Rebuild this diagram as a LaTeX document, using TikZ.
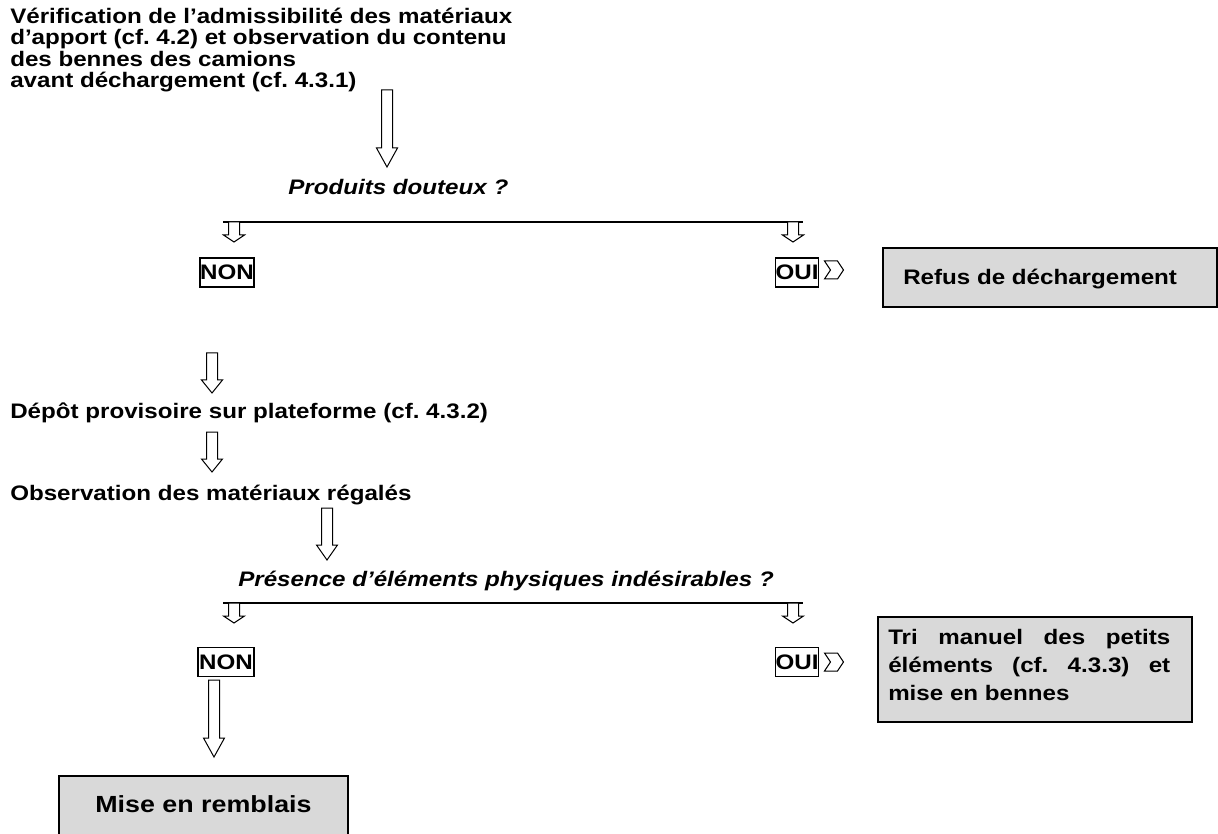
\documentclass[tikz,border=0pt]{standalone}
\usepackage{fontspec}
\setmainfont{Liberation Sans}
\newfontfamily\sfb[FakeStretch=1.15]{Liberation Sans}
\usetikzlibrary{calc}
\frenchspacing
\newcommand\harrow[3]{%
  \draw[hollow] ($(#1)+(-5.5,0)$) -- ($(#1)+(5.5,0)$) -- ($(#2)+(5.5,-#3)$) -- ($(#2)+(10.5,-#3)$) -- (#2)
    -- ($(#2)+(-10.5,-#3)$) -- ($(#2)+(-5.5,-#3)$) -- cycle;}
\newcommand\chevron[1]{%
  \draw[hollow,shift={(#1)}] (-9.5,-9) -- (3.5,-9) -- (9.5,0) -- (3.5,9) -- (-9.5,9) -- (-3.5,0) -- cycle;}
\begin{document}
\begin{tikzpicture}[x=0.75pt,y=-0.75pt,
  txt/.style={inner sep=0pt, font=\sfb\bfseries\fontsize{15.75}{16.1}\selectfont, align=left},
  qtxt/.style={inner sep=0pt, font=\sfb\bfseries\itshape\fontsize{15.75}{16.1}\selectfont},
  lab/.style={draw, line width=0.9pt, inner sep=0pt, minimum height=21.75pt, font=\sfb\bfseries\fontsize{15.75}{16.1}\selectfont},
  result/.style={draw, line width=0.9pt, fill=black!15},
  hollow/.style={draw, line width=0.75pt, fill=white, line join=miter},
  branch/.style={line width=1.1pt}]
\useasboundingbox (0,0) rectangle (1218,834);

% texts
\node[txt, anchor=north west] (verif) at (10,7.5) {Vérification de l’admissibilité des matériaux\\d’apport (cf. 4.2) et observation du contenu\\des bennes des camions\\avant déchargement (cf. 4.3.1)};
\node[qtxt, anchor=base west] (q1) at (288,195) {Produits douteux ?};
\node[lab, minimum width=40.5pt] (non1) at (227,272.5) {NON};
\node[lab, minimum width=31.5pt] (oui1) at (797,272.5) {OUI};
\draw[result] (883,248) rectangle (1217,307);
\node[txt, anchor=base west] (refus) at (903,285) {Refus de déchargement};
\node[txt, anchor=base west] (depot) at (10,418) {Dépôt provisoire sur plateforme (cf. 4.3.2)};
\node[txt, anchor=base west] (obs) at (10,500) {Observation des matériaux régalés};
\node[qtxt, anchor=base west] (q2) at (238,586) {Présence d’éléments physiques indésirables ?};
\node[lab, minimum width=42pt] (non2) at (226,662) {NON};
\node[lab, minimum width=31.5pt] (oui2) at (797,662) {OUI};
\draw[result] (878,617) rectangle (1192,722);
\node[inner sep=0pt, anchor=north west, text width=211.5pt, align=justify,
  font=\sfb\bfseries\fontsize{15.75}{20.7}\selectfont] (tri) at (888,629.5)
  {Tri manuel des petits\linebreak éléments (cf. 4.3.3) et\linebreak mise en bennes};
\draw[result] (59,776) rectangle (348,840);
\node[inner sep=0pt, anchor=base, font=\sfb\bfseries\fontsize{17.5}{20}\selectfont] (mise) at (203.5,812) {Mise en remblais};

% connector end points
\coordinate (a1s) at (387,90);  \coordinate (a1e) at (387,167);
\coordinate (a2s) at (212,353); \coordinate (a2e) at (212,393);
\coordinate (a3s) at (212,432); \coordinate (a3e) at (212,472);
\coordinate (a4s) at (327,508); \coordinate (a4e) at (327,560);
\coordinate (a5s) at (214,680); \coordinate (a5e) at (214,757);
\coordinate (b1l) at (223,222); \coordinate (b1r) at (803,222);
\coordinate (b2l) at (223,603); \coordinate (b2r) at (803,603);
\coordinate (s1s) at (234,222); \coordinate (s1e) at (234,242);
\coordinate (s2s) at (793,222); \coordinate (s2e) at (793,242);
\coordinate (s3s) at (234,603); \coordinate (s3e) at (234,623);
\coordinate (s4s) at (793,603); \coordinate (s4e) at (793,623);
\coordinate (c1) at (834,270);
\coordinate (c2) at (834,662);

% connectors
\draw[branch] (b1l) -- (b1r);
\draw[branch] (b2l) -- (b2r);
\harrow{a1s}{a1e}{19}
\harrow{a2s}{a2e}{13}
\harrow{a3s}{a3e}{13}
\harrow{a4s}{a4e}{15}
\harrow{a5s}{a5e}{19}
\harrow{s1s}{s1e}{7}
\harrow{s2s}{s2e}{7}
\harrow{s3s}{s3e}{7}
\harrow{s4s}{s4e}{7}
\chevron{c1}
\chevron{c2}
\end{tikzpicture}
\end{document}
